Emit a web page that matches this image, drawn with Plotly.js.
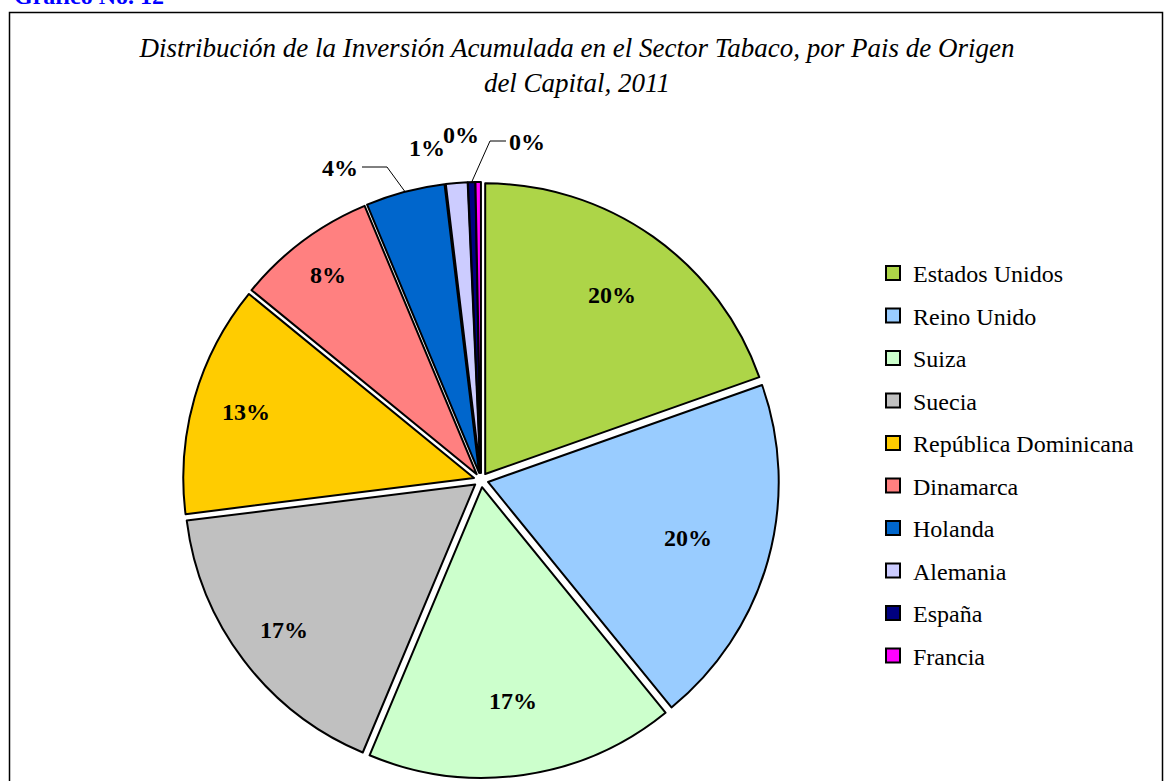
<!DOCTYPE html>
<html>
<head>
<meta charset="utf-8">
<script src="https://cdn.plot.ly/plotly-3.0.1.min.js"></script>
<style>html,body{margin:0;padding:0;background:#fff;}#chart{width:1164px;height:781px;}</style>
</head>
<body>
<div id="chart"></div>
<script>
const labels = ["Estados Unidos","Reino Unido","Suiza","Suecia","República Dominicana","Dinamarca","Holanda","Alemania","España","Francia"];
const values = [19.6, 19.55, 17.2, 16.7, 12.9, 7.8, 4.4, 1.2, 0.4, 0.3];
const colors = ["#ADD548","#99CCFF","#CCFFCC","#C0C0C0","#FFCC00","#FF8080","#0066CC","#CCCCFF","#000080","#FF00FF"];
const titleText = "Distribución de la Inversión Acumulada en el Sector Tabaco, por Pais de Origen<br>del Capital, 2011";
const headerText = "Gráfico No. 12";

const W = 1164, H = 781;
const serif = "Liberation Serif";
const CX = 481, CY = 480, R = 298, PULL = 0.025;

// label placement (text layout only): inside labels at a fraction of radius,
// small slices get outside labels [labelX, labelY, leader elbow points or null]
const insideFrac = [0.76, 0.72, 0.75, 0.83, 0.82, 0.86];
const outsideLabels = {
  6: {x: 340, y: 168, leader: [[387, 167], [362, 167]]},
  7: {x: 427, y: 148, leader: null},
  9: {x: 461, y: 135, leader: null},
  8: {x: 527, y: 142, leader: [[490, 141], [506, 141]]}
};

const total = values.reduce((a, b) => a + b, 0);
const px2x = p => p / W, py2y = p => 1 - p / H;

const traces = [{
  type: "pie",
  labels: labels,
  values: values,
  sort: false,
  direction: "clockwise",
  rotation: 0,
  pull: values.map(() => PULL),
  marker: {colors: colors, line: {color: "#000000", width: 2}},
  textinfo: "none",
  domain: {x: [(CX - R) / W, (CX + R) / W], y: [(H - CY - R) / H, (H - CY + R) / H]},
  showlegend: false,
  hoverinfo: "label+percent"
}];

labels.forEach((lab, i) => {
  traces.push({
    type: "scatter",
    mode: "markers",
    x: [null], y: [null],
    name: lab,
    legendgroup: "g" + i,
    marker: {symbol: "square", size: 14, color: colors[i], line: {color: "#000000", width: 2}},
    showlegend: true,
    hoverinfo: "skip"
  });
});

const labelFont = {family: serif, size: 24, color: "#000000", weight: "bold"};
const annotations = [{
  text: headerText, showarrow: false,
  xref: "paper", yref: "paper", x: px2x(12), xanchor: "left",
  y: py2y(-4), yanchor: "middle",
  font: {family: serif, size: 24, color: "#0000FF", weight: "bold"}
}];
const shapes = [{
  type: "rect", xref: "paper", yref: "paper",
  x0: px2x(9.5), x1: px2x(1162.5), y0: -0.05, y1: py2y(12.5),
  line: {color: "#000000", width: 1.5}, fillcolor: "rgba(0,0,0,0)", layer: "below"
}];

let cum = 0;
values.forEach((v, i) => {
  const mid = (cum + v / 2) / total * 2 * Math.PI;
  cum += v;
  const txt = Math.round(v / total * 100) + "%";
  if (i < insideFrac.length) {
    const r = R * insideFrac[i];
    annotations.push({
      text: txt, showarrow: false, xref: "paper", yref: "paper",
      x: px2x(CX + r * Math.sin(mid)), y: py2y(CY - r * Math.cos(mid)),
      xanchor: "center", yanchor: "middle", font: labelFont
    });
  } else {
    const o = outsideLabels[i];
    annotations.push({
      text: txt, showarrow: false, xref: "paper", yref: "paper",
      x: px2x(o.x), y: py2y(o.y), xanchor: "center", yanchor: "middle", font: labelFont
    });
    if (o.leader) {
      const tx = CX + R * Math.sin(mid), ty = CY - R * Math.cos(mid);
      let path = "M " + px2x(tx) + "," + py2y(ty);
      o.leader.forEach(p => { path += " L " + px2x(p[0]) + "," + py2y(p[1]); });
      shapes.push({type: "path", xref: "paper", yref: "paper", path: path,
        line: {color: "#000000", width: 1}});
    }
  }
});

const layout = {
  width: W, height: H,
  margin: {l: 0, r: 0, t: 0, b: 0},
  paper_bgcolor: "#ffffff",
  plot_bgcolor: "#ffffff",
  xaxis: {visible: false},
  yaxis: {visible: false},
  title: {
    text: titleText,
    font: {family: serif, size: 27, style: "italic", color: "#000000"},
    x: 577 / W, xanchor: "center",
    y: 1 - 57 / H, yanchor: "top", yref: "container"
  },
  showlegend: true,
  legend: {
    x: 873 / W, xanchor: "left",
    y: 1 - 251 / H, yanchor: "top",
    font: {family: serif, size: 24, color: "#000000"},
    tracegroupgap: 8.3,
    bgcolor: "rgba(0,0,0,0)"
  },
  shapes: shapes,
  annotations: annotations
};

Plotly.newPlot("chart", traces, layout, {displayModeBar: false, staticPlot: true});
</script>
</body>
</html>
